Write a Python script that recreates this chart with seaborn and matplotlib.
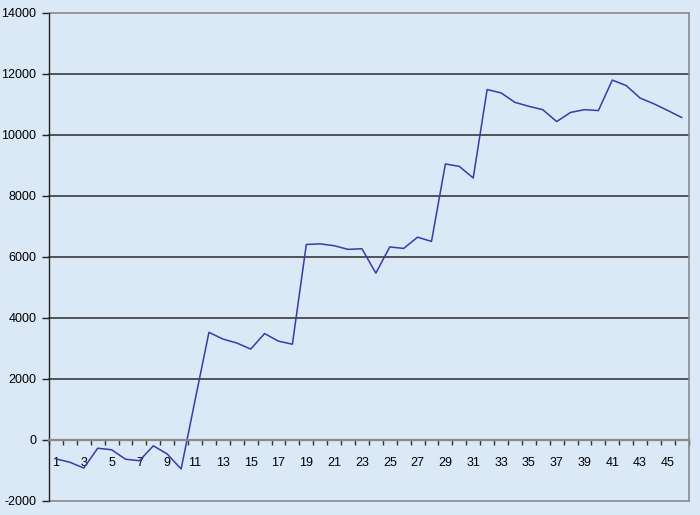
import numpy as np
import pandas as pd
import seaborn as sns
from matplotlib import pyplot as plt
from matplotlib.ticker import FixedLocator

# values, one per period (1..46)
periods = list(range(1, 47))
values = [-620, -730, -920, -270, -320, -630, -680, -190, -460, -950,
          1300, 3530, 3310, 3180, 2980, 3490, 3240, 3140, 6410, 6430,
          6370, 6250, 6270, 5470, 6330, 6280, 6650, 6510, 9050, 8970,
          8590, 11490, 11380, 11070, 10940, 10830, 10440, 10740, 10830, 10800,
          11800, 11620, 11210, 11020, 10800, 10570]
y_ticks = [-2000, 0, 2000, 4000, 6000, 8000, 10000, 12000, 14000]
x_labels = [str(p) for p in periods[::2]]

df = pd.DataFrame({'period': periods, 'value': values})

sns.set_style('white')
plt.rcParams['font.family'] = ['Liberation Sans', 'DejaVu Sans']

bg = '#dbe8f6'
fig = plt.figure(figsize=(7, 5.15), dpi=100, facecolor=bg)
ax = fig.add_axes([0.07, 0.0272, 0.914, 0.9476])
ax.set_facecolor(bg)

sns.lineplot(data=df, x='period', y='value', ax=ax, color='#3a3aa8', linewidth=1.1)

ax.set_xlim(0.5, 46.5)
ax.set_ylim(-2000, 14000)

# horizontal gridlines
for t in y_ticks:
    if t == 0:
        continue
    c = '#8a8a8a' if t in (-2000, 14000) else '#3a3a3a'
    ax.axhline(t, color=c, lw=1.2, zorder=1, clip_on=False)

ax.set_yticks(y_ticks)
ax.set_yticklabels([str(t) for t in y_ticks], fontsize=9, color='black')
ax.tick_params(axis='y', direction='out', length=5, width=1, color='#222222', pad=4, left=True)

# category axis crossing at zero
ax.spines['bottom'].set_position(('data', 0))
ax.spines['bottom'].set_color('#8a8a8a')
ax.spines['bottom'].set_linewidth(1.6)
ax.spines['left'].set_color('#222222')
ax.spines['left'].set_linewidth(1.0)
ax.spines['top'].set_visible(False)
ax.spines['right'].set_color('#8a8a8a')
ax.spines['right'].set_linewidth(1.2)

ax.set_xticks(periods[::2])
ax.set_xticklabels(x_labels, fontsize=9, color='black')
ax.xaxis.set_minor_locator(FixedLocator([p + 0.5 for p in range(0, 47)]))
ax.tick_params(axis='x', which='major', length=0, pad=12, bottom=True)
ax.tick_params(axis='x', which='minor', length=3.5, width=1, color='#333333', direction='out', bottom=True)

ax.set_xlabel('')
ax.set_ylabel('')

fig.savefig('out.png', dpi=100, facecolor=bg)
